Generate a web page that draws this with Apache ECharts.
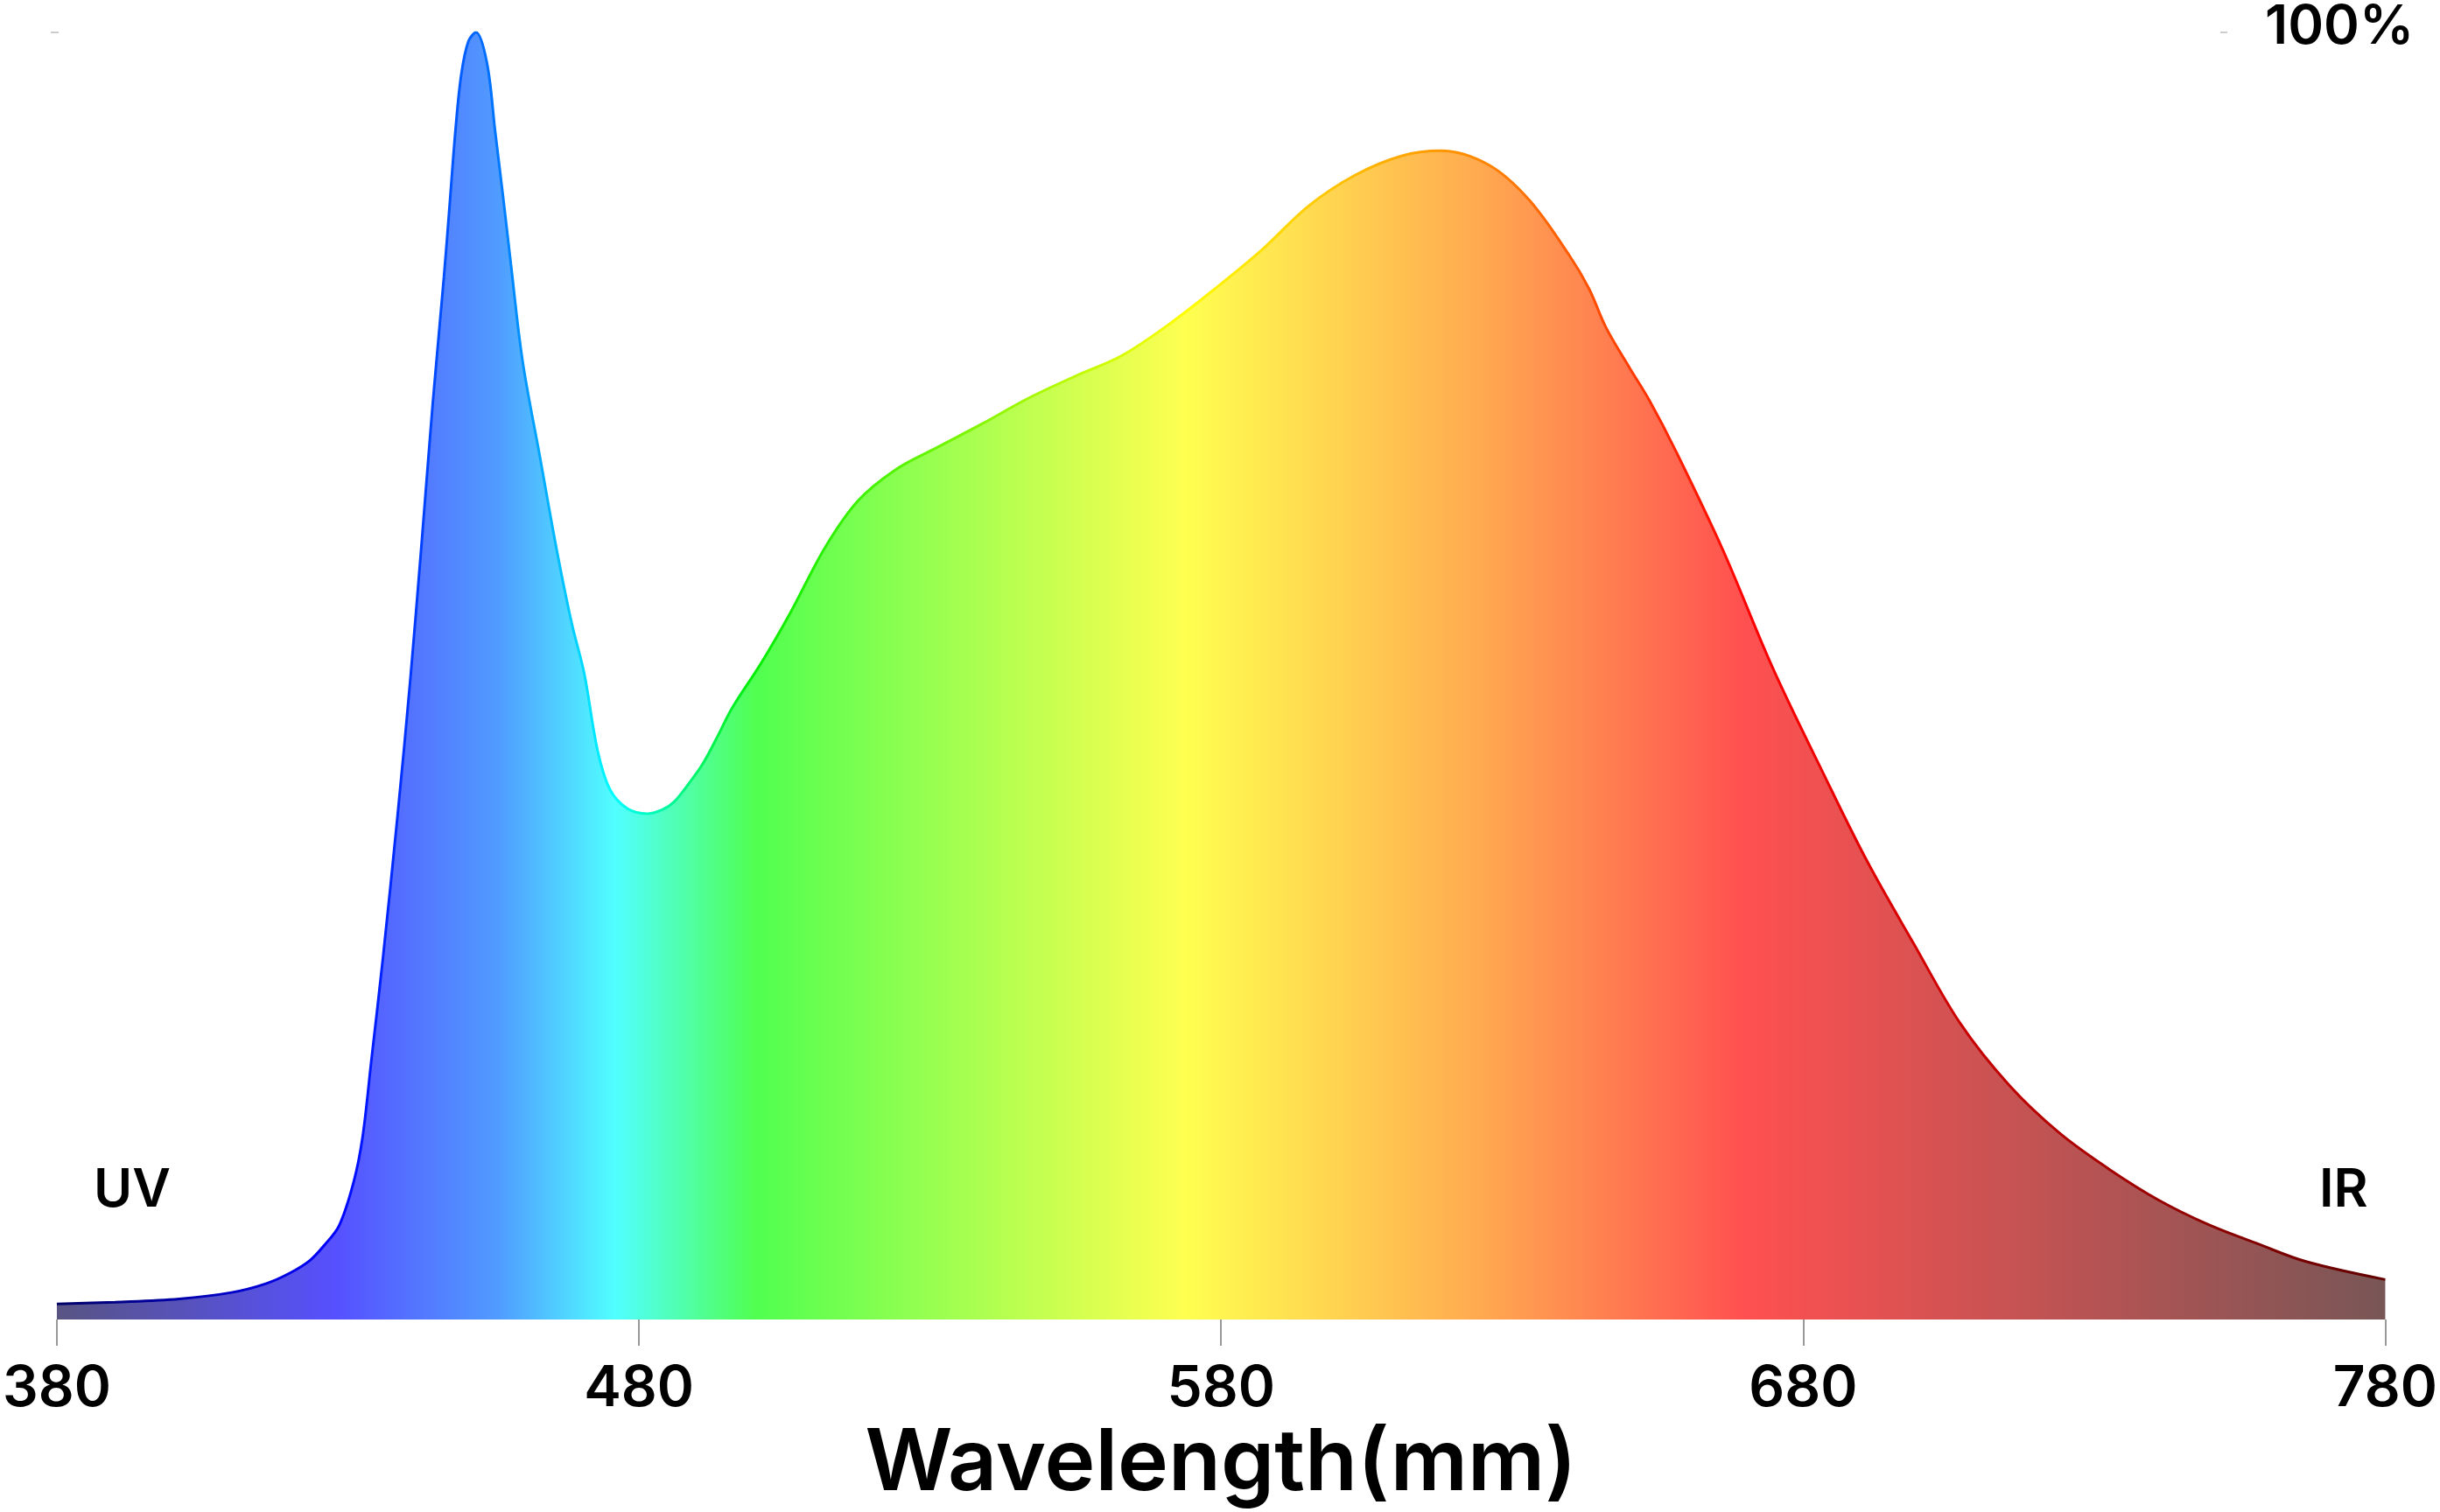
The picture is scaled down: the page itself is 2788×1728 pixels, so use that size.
<!DOCTYPE html>
<html>
<head>
<meta charset="utf-8">
<script src="https://cdn.jsdelivr.net/npm/echarts@6/dist/echarts.min.js"></script>
<style>
html,body{margin:0;padding:0;background:#fff;}
#chart{width:2788px;height:1728px;}
</style>
</head>
<body>
<div id="chart"></div>
<script>
// Wavelength (nm) and relative intensity (%)
var wavelengths = [380, 390, 401, 410, 416, 420, 423.5, 426, 428.5, 431, 432.5, 434, 436, 438.5, 440.7, 442.7, 444.6, 446.5, 447.5, 448.5, 449.5, 450.7, 452, 453.9, 455.3, 456.8, 458, 460, 463, 466, 468.5, 470.6, 472.9, 475, 478, 481.5, 484, 486, 488.5, 491, 493.5, 496, 501, 506, 512, 517.6, 524, 531, 539, 547, 555, 563, 571, 579, 587, 595, 603, 611, 617.7, 626, 632.9, 639.8, 643.2, 646.1, 650.1, 653.6, 658.1, 666.2, 674.8, 683.5, 691, 699, 707, 715.4, 724, 732.5, 741, 749.5, 758, 766.4, 780];
var intensity = [1.2, 1.35, 1.6, 2.1, 2.8, 3.6, 4.6, 5.8, 7.3, 10.7, 14.1, 20, 28, 39, 49.6, 60.5, 71.3, 81, 86.7, 92.5, 96.8, 99.3, 100, 97.6, 92.3, 86.7, 82, 74.5, 67, 59.5, 54, 50.2, 44.2, 41.2, 39.7, 39.3, 39.6, 40.2, 41.6, 43.2, 45.3, 47.5, 51, 54.9, 60, 63.6, 66, 67.7, 69.6, 71.6, 73.3, 74.9, 77.3, 80.1, 83.1, 86.5, 88.9, 90.4, 90.8, 89.7, 87, 82.7, 80.1, 77.1, 74, 71.4, 67.5, 59.8, 50.6, 42.4, 35.6, 29.2, 23, 18.2, 14.5, 11.7, 9.3, 7.4, 5.9, 4.5, 3.1];
var tickValues = [380, 480, 580, 680, 780];
var axisTitle = 'Wavelength(mm)';
var leftLabel = 'UV';
var rightLabel = 'IR';
var topLabel = '100%';

var seriesData = wavelengths.map(function (w, i) { return [w, intensity[i]]; });

var chart = echarts.init(document.getElementById('chart'), null, {renderer: 'canvas'});
var FONT = 'Inter';

var fillGrad = new echarts.graphic.LinearGradient(0, 0, 1, 0, [
  {offset: 0.00, color: '#585482'},
  {offset: 0.12, color: '#5650ff'},
  {offset: 0.19, color: '#509cff'},
  {offset: 0.24, color: '#50ffff'},
  {offset: 0.30, color: '#50ff50'},
  {offset: 0.485, color: '#ffff50'},
  {offset: 0.61, color: '#ffaa50'},
  {offset: 0.725, color: '#ff5050'},
  {offset: 1.00, color: '#785656'}
]);
var lineGrad = new echarts.graphic.LinearGradient(0, 0, 1, 0, [
  {offset: 0.00, color: '#000066'},
  {offset: 0.12, color: '#0000ff'},
  {offset: 0.19, color: '#0077ff'},
  {offset: 0.24, color: '#00ffff'},
  {offset: 0.30, color: '#00ee00'},
  {offset: 0.485, color: '#ffff00'},
  {offset: 0.61, color: '#ff8800'},
  {offset: 0.725, color: '#ff0000'},
  {offset: 1.00, color: '#600000'}
]);

chart.setOption({
  animation: false,
  backgroundColor: '#ffffff',
  grid: {left: 60, right: 61, top: 37, bottom: 220, containLabel: false},
  xAxis: {
    type: 'value', min: 380, max: 780, interval: 100,
    axisLine: {show: false},
    axisTick: {show: true, length: 30, lineStyle: {color: '#999999', width: 2}},
    splitLine: {show: false},
    axisLabel: {
      margin: 48, fontFamily: FONT, fontSize: 64, fontWeight: 600, color: '#000',
      customValues: tickValues
    },
    name: axisTitle, nameLocation: 'middle', nameGap: 106,
    nameTextStyle: {fontFamily: FONT, fontSize: 98, fontWeight: 600, color: '#000'}
  },
  yAxis: {
    type: 'value', min: 0, max: 100,
    show: false
  },
  series: [{
    type: 'line',
    data: seriesData,
    smooth: 0.35,
    symbol: 'none',
    lineStyle: {width: 3, color: lineGrad},
    areaStyle: {color: fillGrad, opacity: 1},
    emphasis: {disabled: true}
  }],
  graphic: [
    {type: 'text', left: 107, top: 1331, style: {text: leftLabel, font: '600 60px ' + FONT, fill: '#000'}},
    {type: 'text', left: 2650, top: 1331, style: {text: rightLabel, font: '600 60px ' + FONT, fill: '#000'}},
    {type: 'text', left: 2588, top: 0, style: {text: topLabel, font: '600 62px ' + FONT, fill: '#000'}},
    {type: 'line', shape: {x1: 58, y1: 37, x2: 67, y2: 37}, style: {stroke: '#cccccc', lineWidth: 2}},
    {type: 'line', shape: {x1: 2537, y1: 37, x2: 2545, y2: 37}, style: {stroke: '#cccccc', lineWidth: 2}}
  ]
});
</script>
</body>
</html>
